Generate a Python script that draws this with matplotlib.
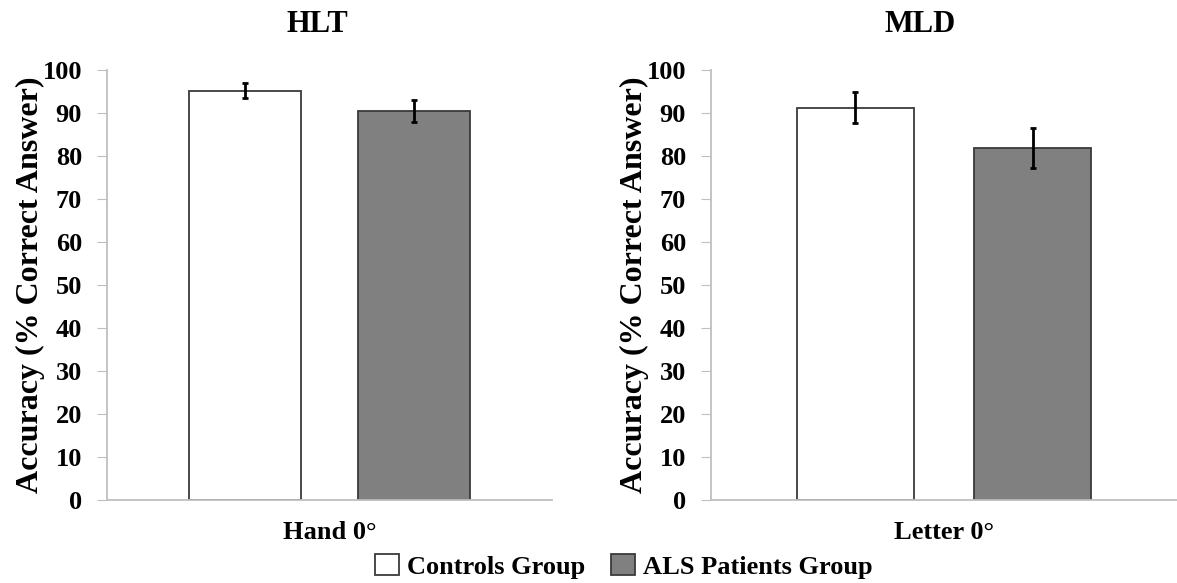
import matplotlib.pyplot as plt

panels = ["HLT", "MLD"]
conditions = ["Hand 0°", "Letter 0°"]
groups = ["Controls Group", "ALS Patients Group"]
means = [[95.2, 90.4], [91.2, 81.8]]
errors = [[1.7, 2.5], [3.6, 4.7]]
colors = ["white", "#808080"]

plt.rcParams['font.family'] = ['Liberation Serif', 'DejaVu Serif']
plt.rcParams['font.weight'] = 'bold'

fig = plt.figure(figsize=(11.77, 5.83), dpi=100)
axes = [fig.add_axes([0.0909, 0.1424, 0.378, 0.7376]),
        fig.add_axes([0.604, 0.1424, 0.396, 0.7376])]
title_x = [0.472, 0.449]

offsets = [-0.19, 0.19]
handles = []
for ax, title, tx, cond, m, e in zip(axes, panels, title_x, conditions, means, errors):
    for i in range(2):
        b = ax.bar(0.5 + offsets[i], m[i], width=0.25, color=colors[i],
                   edgecolor="#3a3a3a", linewidth=1.3, yerr=e[i],
                   error_kw=dict(ecolor="black", elinewidth=2, capsize=2, capthick=2))
        if ax is axes[0]:
            handles.append(b)
    ax.set_xlim(0, 1)
    ax.set_ylim(0, 100)
    ax.set_yticks(range(0, 101, 10))
    ax.set_xticks([0.5])
    ax.set_xticklabels([cond])
    ax.tick_params(axis='x', length=0, labelsize=19, pad=15)
    ax.tick_params(axis='y', length=7, color="#bfbfbf", labelsize=19, pad=11)
    for lab in ax.get_yticklabels() + ax.get_xticklabels():
        lab.set_fontweight('bold')
    for s in ["top", "right"]:
        ax.spines[s].set_visible(False)
    for s in ["left", "bottom"]:
        ax.spines[s].set_color("#bfbfbf")
        ax.spines[s].set_linewidth(1.3)
    ax.set_ylabel("Accuracy (% Correct Answer)", fontsize=23, fontweight='bold', labelpad=-2)
    ax.set_title(title, fontsize=22, fontweight='bold', pad=27, x=tx)

fig.legend(handles, groups, loc="center", bbox_to_anchor=(0.53, 0.029), ncol=2,
           frameon=False, handlelength=0.9, handleheight=0.9,
           handletextpad=0.3, columnspacing=1.0, prop={'weight': 'bold', 'size': 19})

fig.savefig("out.png", dpi=100)
